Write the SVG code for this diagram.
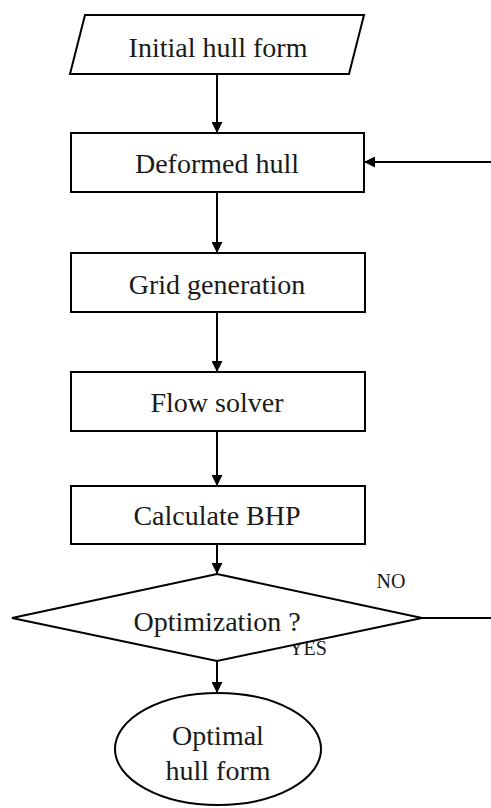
<svg xmlns="http://www.w3.org/2000/svg" width="491" height="808" viewBox="0 0 491 808">
<style>
.shape{fill:#fff;stroke:#000;stroke-width:2}
.lbl{font-family:"Liberation Serif","Times New Roman",serif;font-size:28px;fill:#1a1a1a;text-anchor:middle}
.small{font-family:"Liberation Serif","Times New Roman",serif;font-size:20px;fill:#1a1a1a;text-anchor:middle}
.conn{stroke:#000;stroke-width:2;fill:none}
</style>
<defs>
<marker id="ah" markerWidth="11" markerHeight="11" refX="10" refY="5.5" orient="auto" markerUnits="userSpaceOnUse">
<path d="M0,0 L11,5.5 L0,11 Z" fill="#000"/>
</marker>
</defs>
<rect width="491" height="808" fill="#fff"/>
<g id="connectors">
<line class="conn" x1="217" y1="74" x2="217" y2="132" marker-end="url(#ah)"/>
<line class="conn" x1="491" y1="162" x2="365" y2="162" marker-end="url(#ah)"/>
<line class="conn" x1="217" y1="192" x2="217" y2="252" marker-end="url(#ah)"/>
<line class="conn" x1="217" y1="312" x2="217" y2="371" marker-end="url(#ah)"/>
<line class="conn" x1="217" y1="431" x2="217" y2="485" marker-end="url(#ah)"/>
<line class="conn" x1="217" y1="544" x2="217" y2="573" marker-end="url(#ah)"/>
<line class="conn" x1="217" y1="661" x2="217" y2="692" marker-end="url(#ah)"/>
<line class="conn" x1="422" y1="618" x2="491" y2="618"/>
<text class="small" x="391" y="588">NO</text>
<text class="small" x="308" y="655">YES</text>
</g>
<g id="initial">
<polygon class="shape" points="85,15 364,15 349,74 70,74"/>
<text class="lbl" x="218" y="57">Initial hull form</text>
</g>
<g id="deformed">
<rect class="shape" x="71" y="133" width="293" height="59"/>
<text class="lbl" x="217" y="173">Deformed hull</text>
</g>
<g id="grid">
<rect class="shape" x="71" y="253" width="294" height="59"/>
<text class="lbl" x="217" y="294">Grid generation</text>
</g>
<g id="flow">
<rect class="shape" x="71" y="372" width="294" height="59"/>
<text class="lbl" x="217" y="412">Flow solver</text>
</g>
<g id="bhp">
<rect class="shape" x="71" y="486" width="294" height="58"/>
<text class="lbl" x="217" y="525">Calculate BHP</text>
</g>
<g id="optimization">
<polygon class="shape" points="217,574 422,618 217,661 12,618"/>
<text class="lbl" x="217" y="631">Optimization ?</text>
</g>
<g id="optimal">
<ellipse class="shape" cx="218" cy="749" rx="103" ry="56"/>
<text class="lbl" x="218" y="745">Optimal</text>
<text class="lbl" x="218" y="780">hull form</text>
</g>
</svg>
